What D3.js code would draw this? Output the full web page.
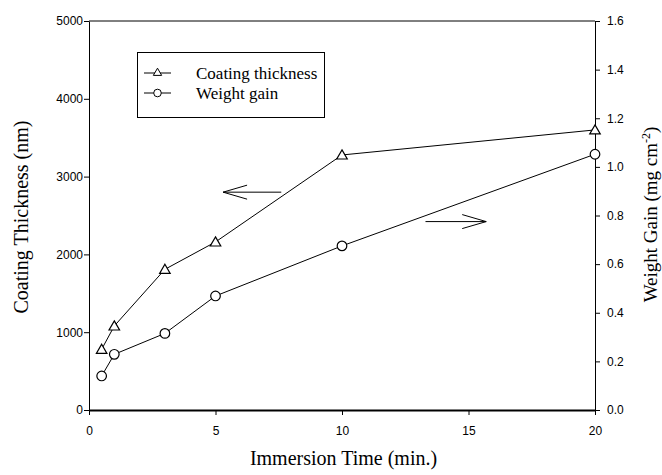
<!DOCTYPE html>
<html><head><meta charset="utf-8">
<script src="https://cdn.jsdelivr.net/npm/d3@7"></script>
<style>body{margin:0;background:#fff}</style>
</head><body>
<svg id="c" width="662" height="475"></svg>
<script>
const times = [0.5, 1, 3, 5, 10, 20];
const thickness = [780, 1080, 1808, 2160, 3278, 3600];
const weightGain = [0.140, 0.229, 0.315, 0.469, 0.675, 1.052];
const xTicks = [0, 5, 10, 15, 20];
const yLeftTicks = [0, 1000, 2000, 3000, 4000, 5000];
const yRightTicks = [0, 0.2, 0.4, 0.6, 0.8, 1.0, 1.2, 1.4, 1.6];
const seriesNames = ["Coating thickness", "Weight gain"];

const svg = d3.select("#c");
const L = 89, R = 595, T = 21, B = 410;
const x = d3.scaleLinear().domain([0, 20]).range([L, R]);
const yL = d3.scaleLinear().domain([0, 5000]).range([B, T]);
const yR = d3.scaleLinear().domain([0, 1.6]).range([B, T]);
const tickFont = "Liberation Sans, Arial, sans-serif";
const serif = "Liberation Serif, Times New Roman, serif";

// top frame line
svg.append("line").attr("x1", L).attr("x2", R).attr("y1", T).attr("y2", T).attr("stroke", "#000").attr("stroke-width", 1);

const gx = svg.append("g").attr("transform", `translate(0,${B})`)
  .call(d3.axisBottom(x).tickValues(xTicks).tickFormat(d3.format("d")).tickSize(5).tickSizeOuter(0));
const gl = svg.append("g").attr("transform", `translate(${L},0)`)
  .call(d3.axisLeft(yL).tickValues(yLeftTicks).tickFormat(d3.format("d")).tickSize(5).tickSizeOuter(0));
const gr = svg.append("g").attr("transform", `translate(${R},0)`)
  .call(d3.axisRight(yR).tickValues(yRightTicks).tickFormat(d3.format(".1f")).tickSize(5).tickSizeOuter(0));
[gx, gl, gr].forEach(g => {
  g.selectAll("text").attr("font-family", tickFont).attr("font-size", 12).attr("fill", "#000");
  g.selectAll("line").attr("stroke", "#000");
  g.select(".domain").attr("stroke", "#000");
});
gx.select(".domain").attr("stroke-width", 2);
gx.selectAll("text").attr("dy", "1.4em");
gl.selectAll("text").attr("x", -6);
gr.selectAll("text").attr("x", 12);

// lines
const lineT = d3.line().x((d, i) => x(times[i])).y(d => yL(d));
const lineW = d3.line().x((d, i) => x(times[i])).y(d => yR(d));
svg.append("path").attr("d", lineT(thickness)).attr("fill", "none").attr("stroke", "#000").attr("stroke-width", 1);
svg.append("path").attr("d", lineW(weightGain)).attr("fill", "none").attr("stroke", "#000").attr("stroke-width", 1);

const tri = d3.symbol().type(d3.symbolTriangle).size(48);
svg.selectAll(".tri").data(thickness).join("path")
  .attr("transform", (d, i) => `translate(${x(times[i])},${yL(d) + 1})`)
  .attr("d", tri).attr("fill", "#fff").attr("stroke", "#000").attr("stroke-width", 1.2);
svg.selectAll(".cir").data(weightGain).join("circle")
  .attr("cx", (d, i) => x(times[i])).attr("cy", d => yR(d)).attr("r", 4.8)
  .attr("fill", "#fff").attr("stroke", "#000").attr("stroke-width", 1.2);

// arrows
function arrow(x1, x2, y) {
  const dir = x2 > x1 ? 1 : -1;
  svg.append("line").attr("x1", x1).attr("x2", x2).attr("y1", y).attr("y2", y).attr("stroke", "#000");
  svg.append("path").attr("d", `M${x2 - dir * 24},${y - 7}L${x2},${y}L${x2 - dir * 24},${y + 7}`)
    .attr("fill", "none").attr("stroke", "#000");
}
arrow(x(7.6), x(5.3), yL(2800));
arrow(x(13.3), x(15.7), yR(0.775));

// legend
const lg = svg.append("g");
lg.append("rect").attr("x", 137.5).attr("y", 52.5).attr("width", 187).attr("height", 65)
  .attr("fill", "#fff").attr("stroke", "#000").attr("stroke-width", 1);
seriesNames.forEach((n, i) => {
  const yy = 73 + i * 20;
  lg.append("line").attr("x1", 144).attr("x2", 171).attr("y1", yy).attr("y2", yy).attr("stroke", "#000");
  if (i === 0) lg.append("path").attr("transform", `translate(157.5,${yy})`).attr("d", d3.symbol().type(d3.symbolTriangle).size(30))
    .attr("fill", "#fff").attr("stroke", "#000");
  else lg.append("circle").attr("cx", 157.5).attr("cy", yy).attr("r", 3.8).attr("fill", "#fff").attr("stroke", "#000");
  lg.append("text").attr("x", 196).attr("y", yy + 5.5).text(n)
    .attr("font-family", serif).attr("font-size", 17).attr("fill", "#000");
});

// axis titles
svg.append("text").attr("x", 343.5).attr("y", 465).attr("text-anchor", "middle")
  .attr("font-family", serif).attr("font-size", 20).text("Immersion Time (min.)");
svg.append("text").attr("transform", `translate(28,217) rotate(-90)`).attr("text-anchor", "middle")
  .attr("font-family", serif).attr("font-size", 20).text("Coating Thickness (nm)");
const rt = svg.append("text").attr("transform", `translate(657,${(T + B) / 2 - 1}) rotate(-90)`).attr("text-anchor", "middle")
  .attr("font-family", serif).attr("font-size", 19);
rt.append("tspan").text("Weight Gain (mg cm");
rt.append("tspan").attr("dy", -7).attr("font-size", 12).text("-2");
rt.append("tspan").attr("dy", 7).text(")");
</script>
</body></html>
